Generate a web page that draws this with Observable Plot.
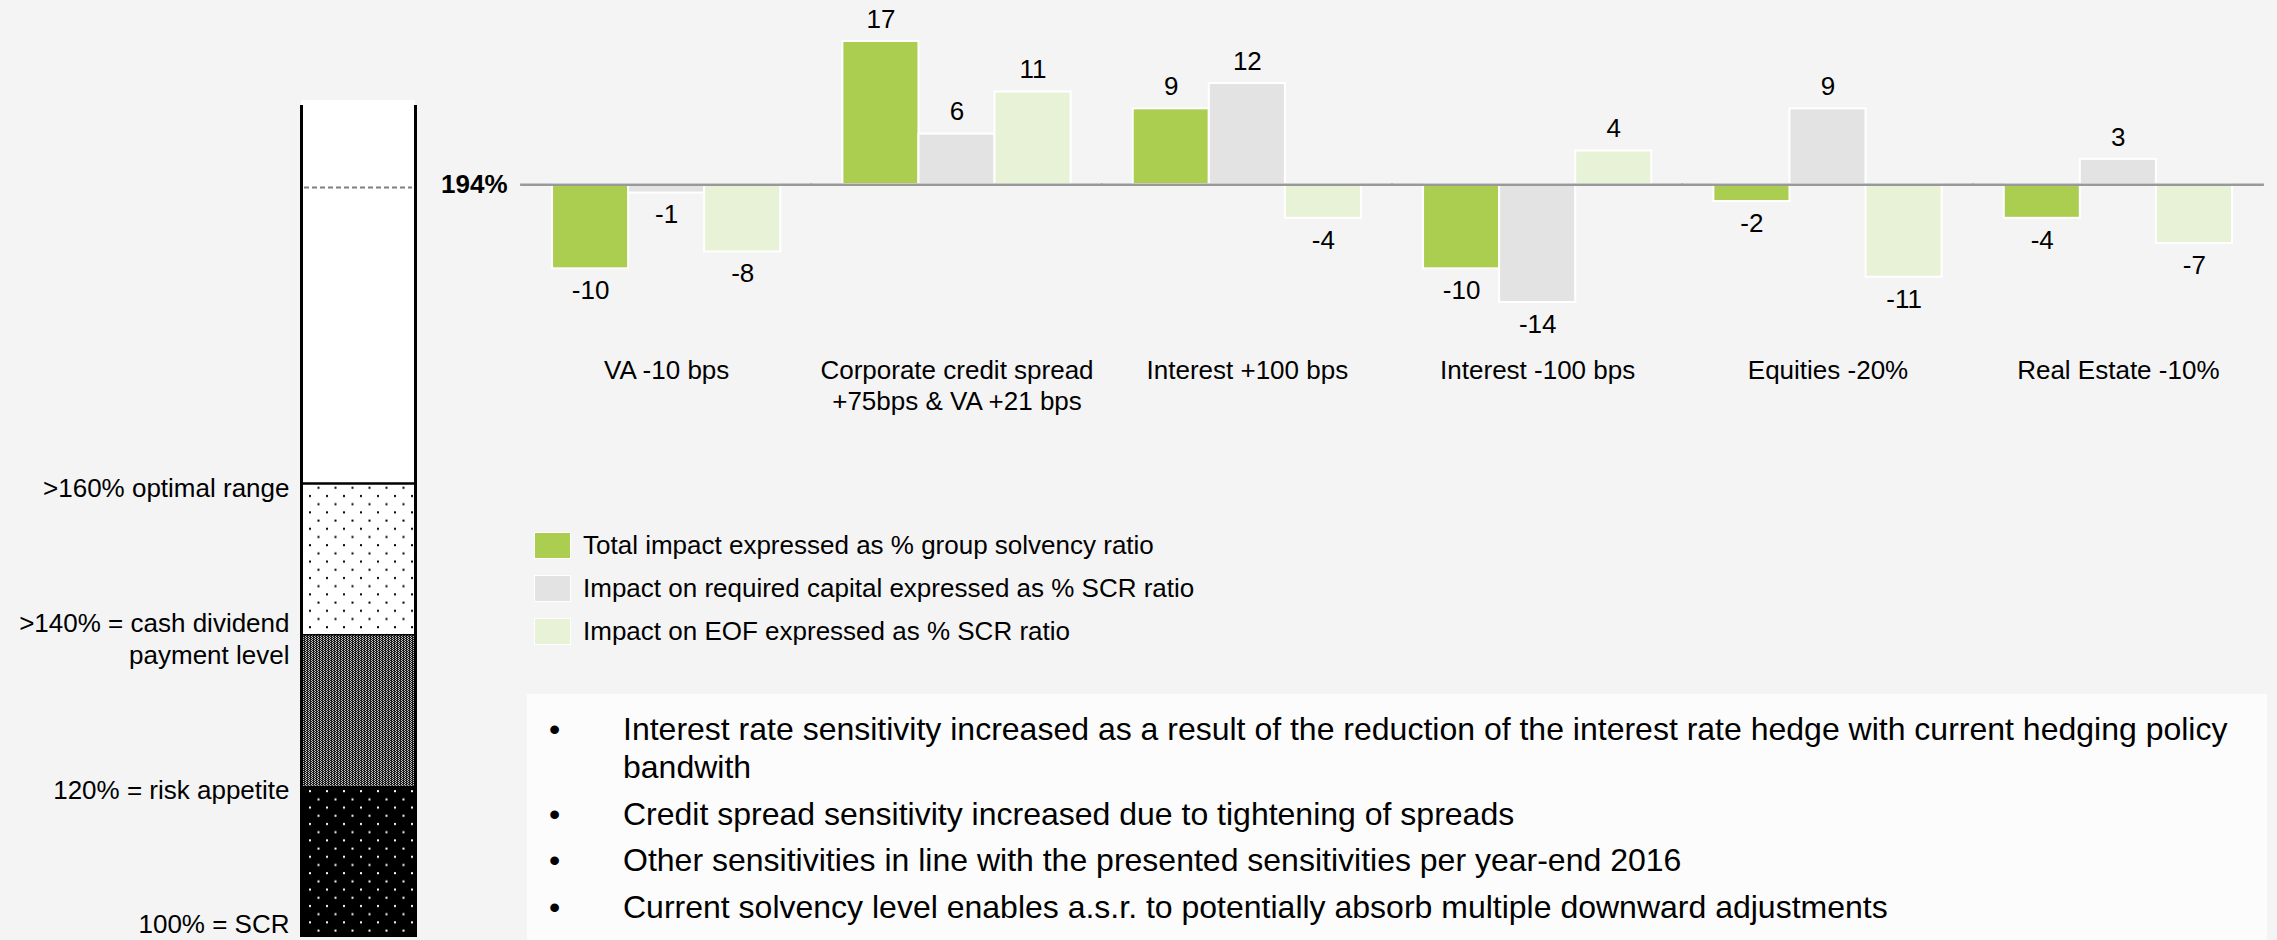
<!DOCTYPE html>
<html>
<head>
<meta charset="utf-8">
<script src="https://cdn.jsdelivr.net/npm/d3@7"></script>
<script src="https://cdn.jsdelivr.net/npm/@observablehq/plot@0.6"></script>
<style>
  html, body { margin: 0; padding: 0; background: #f4f4f4; }
  #root { position: relative; width: 2277px; height: 940px; overflow: hidden;
          font-family: Arial, "Liberation Sans", sans-serif; color: #000; }
  #column { position: absolute; left: 0; top: 0; }
  #bars { position: absolute; left: 400px; top: 0; }
  #legend { position: absolute; left: 534px; top: 532px; font-size: 26px; }
  .lg-row { display: flex; align-items: center; height: 27px; margin-bottom: 16px; }
  .lg-sw { width: 35px; height: 25px; border: 1px solid #fff; margin-right: 12px; }
  #notes { position: absolute; left: 527px; top: 694px; width: 1740px; height: 260px;
           background: #fcfcfc; box-sizing: border-box; padding: 16px 0 0 96px;
           font-size: 32px; }
  #notes ul { list-style: none; margin: 0; padding: 0; width: 1625px; }
  #notes li { position: relative; line-height: 38px; margin-bottom: 8.5px; }
  #notes li::before { content: "\2022"; position: absolute; left: -74px; top: 0; }
</style>
</head>
<body>
<div id="root">
  <div id="column"></div>
  <div id="bars"></div>
  <div id="legend"></div>
  <div id="notes"><ul></ul></div>
</div>
<script>
// ---------- data ----------
const categories = [
  "VA -10 bps",
  "Corporate credit spread\n+75bps & VA +21 bps",
  "Interest +100 bps",
  "Interest -100 bps",
  "Equities -20%",
  "Real Estate -10%"
];
const seriesNames = [
  "Total impact expressed as % group solvency ratio",
  "Impact on required capital expressed as % SCR ratio",
  "Impact on EOF expressed as % SCR ratio"
];
const totalImpact = [-10, 17, 9, -10, -2, -4];
const requiredCapitalImpact = [-1, 6, 12, -14, 9, 3];
const eofImpact = [-8, 11, -4, 4, -11, -7];
const seriesColors = ["#abcd50", "#e2e3e2", "#e8f2d6"];

const solvencyRatio = 194;
const zoneBounds = [100, 120, 140, 160];
const zoneLabels = ["100% = SCR", "120% = risk appetite", ">140% = cash dividend\npayment level", ">160% optimal range"];
const columnCap = 220;

const notes = [
  "Interest rate sensitivity increased as a result of the reduction of the interest rate hedge with current hedging policy bandwith",
  "Credit spread sensitivity increased due to tightening of spreads",
  "Other sensitivities in line with the presented sensitivities per year-end 2016",
  "Current solvency level enables a.s.r. to potentially absorb multiple downward adjustments"
];

const FONT = 'Arial, "Liberation Sans", sans-serif';

// ---------- bar chart ----------
const seriesValues = [totalImpact, requiredCapitalImpact, eofImpact];
const rows = categories.flatMap((c, i) =>
  seriesNames.map((s, j) => ({category: c, series: s, value: seriesValues[j][i]}))
);

const bars = Plot.plot({
  width: 1877,
  height: 420,
  marginLeft: 121,
  marginRight: 14,
  marginTop: 41,
  marginBottom: 118,
  style: {background: "transparent", fontFamily: FONT, fontSize: "26px", color: "#000"},
  fx: {domain: categories, paddingInner: 0.214, paddingOuter: 0.107, round: false, axis: null, label: null},
  x: {domain: seriesNames, padding: 0, round: false, axis: null, label: null},
  y: {domain: [-14, 17], axis: null, label: null},
  color: {domain: seriesNames, range: seriesColors},
  marks: [
    Plot.barY(rows, {fx: "category", x: "series", y: "value", fill: "series", stroke: "#ffffff", strokeWidth: 2}),
    Plot.ruleY([0], {stroke: "#999999", strokeWidth: 2.5, insetLeft: -32, insetRight: -32}),
    Plot.text(rows.filter(d => d.value >= 0), {fx: "category", x: "series", y: "value",
      text: d => String(d.value), dy: -22, fontSize: 26, fill: "#000"}),
    Plot.text(rows.filter(d => d.value < 0), {fx: "category", x: "series", y: "value",
      text: d => String(d.value), dy: 22, fontSize: 26, fill: "#000"}),
    Plot.text(categories, {fx: d => d, text: d => d, frameAnchor: "bottom", lineAnchor: "top",
      dy: 55, lineHeight: 1.18, fontSize: 26, fill: "#000"}),
    Plot.text([solvencyRatio], {fx: () => categories[0], y: () => 0, text: d => d + "%",
      frameAnchor: "left", textAnchor: "end", dx: -45, fontWeight: "bold", fontSize: 26, fill: "#000"})
  ]
});
document.getElementById("bars").appendChild(bars);

// ---------- left solvency column ----------
const zones = [
  {lo: zoneBounds[0], hi: zoneBounds[1], fill: "url(#zoneDotsDark)"},
  {lo: zoneBounds[1], hi: zoneBounds[2], fill: "url(#zoneChecker)"},
  {lo: zoneBounds[2], hi: zoneBounds[3], fill: "url(#zoneDotsLight)"},
  {lo: zoneBounds[3], hi: columnCap, fill: "#ffffff"}
];
const levels = zoneBounds.map((v, i) => ({value: v, label: zoneLabels[i]}));

const column = Plot.plot({
  width: 450,
  height: 940,
  margin: 0,
  style: {background: "transparent", fontFamily: FONT, fontSize: "26px", color: "#000"},
  x: {type: "linear", domain: [0, 1], range: [301, 415], axis: null},
  y: {type: "linear", domain: [100, 160, solvencyRatio, columnCap], range: [937, 483, 187, 100], axis: null},
  color: {type: "identity"},
  marks: [
    Plot.rect(zones, {x1: () => 0, x2: () => 1, y1: "lo", y2: "hi", fill: "fill"}),
    Plot.ruleY([zoneBounds[3]], {x1: () => 0, x2: () => 1, stroke: "#000", strokeWidth: 2.5}),
    Plot.ruleY([zoneBounds[2]], {x1: () => 0, x2: () => 1, stroke: "#000", strokeWidth: 1.5}),
    Plot.ruleY([solvencyRatio], {x1: () => 0, x2: () => 1, stroke: "#7f7f7f", strokeWidth: 2,
      strokeDasharray: "5 3", insetLeft: 3, insetRight: 3}),
    Plot.ruleX([0, 1], {y1: () => zoneBounds[0], y2: () => columnCap, stroke: "#000", strokeWidth: 3, insetBottom: -5}),
    Plot.text(levels.filter(d => d.value > zoneBounds[0]), {x: () => 0, y: "value", text: "label",
      textAnchor: "end", lineAnchor: "middle", dx: -12, dy: 3, lineHeight: 1.23, fontSize: 26, fill: "#000"}),
    Plot.text(levels.filter(d => d.value === zoneBounds[0]), {x: () => 0, y: "value", text: "label",
      textAnchor: "end", lineAnchor: "middle", dx: -12, dy: -13, fontSize: 26, fill: "#000"})
  ]
});
d3.select(column).insert("defs", ":first-child").html(`
  <pattern id="zoneDotsLight" width="17" height="16.4" patternUnits="userSpaceOnUse">
    <rect width="17" height="16.4" fill="#ffffff"/>
    <rect x="3" y="3" width="2" height="2" fill="#000"/>
    <rect x="11.5" y="11.2" width="2" height="2" fill="#000"/>
  </pattern>
  <pattern id="zoneChecker" width="3" height="2" patternUnits="userSpaceOnUse">
    <rect width="3" height="2" fill="#c8c8c8"/>
    <rect width="2" height="1" fill="#1a1a1a"/>
    <rect x="1" y="1" width="2" height="1" fill="#1a1a1a"/>
  </pattern>
  <pattern id="zoneDotsDark" width="17" height="16.4" patternUnits="userSpaceOnUse">
    <rect width="17" height="16.4" fill="#000"/>
    <rect x="3" y="3" width="2" height="2" fill="#ffffff"/>
    <rect x="11.5" y="11.2" width="2" height="2" fill="#ffffff"/>
  </pattern>`);
document.getElementById("column").appendChild(column);

// ---------- legend ----------
const legend = d3.select("#legend");
seriesNames.forEach((s, i) => {
  const row = legend.append("div").attr("class", "lg-row");
  row.append("div").attr("class", "lg-sw").style("background", seriesColors[i]);
  row.append("span").text(s);
});

// ---------- notes ----------
d3.select("#notes ul").selectAll("li").data(notes).join("li").text(d => d);
</script>
</body>
</html>
